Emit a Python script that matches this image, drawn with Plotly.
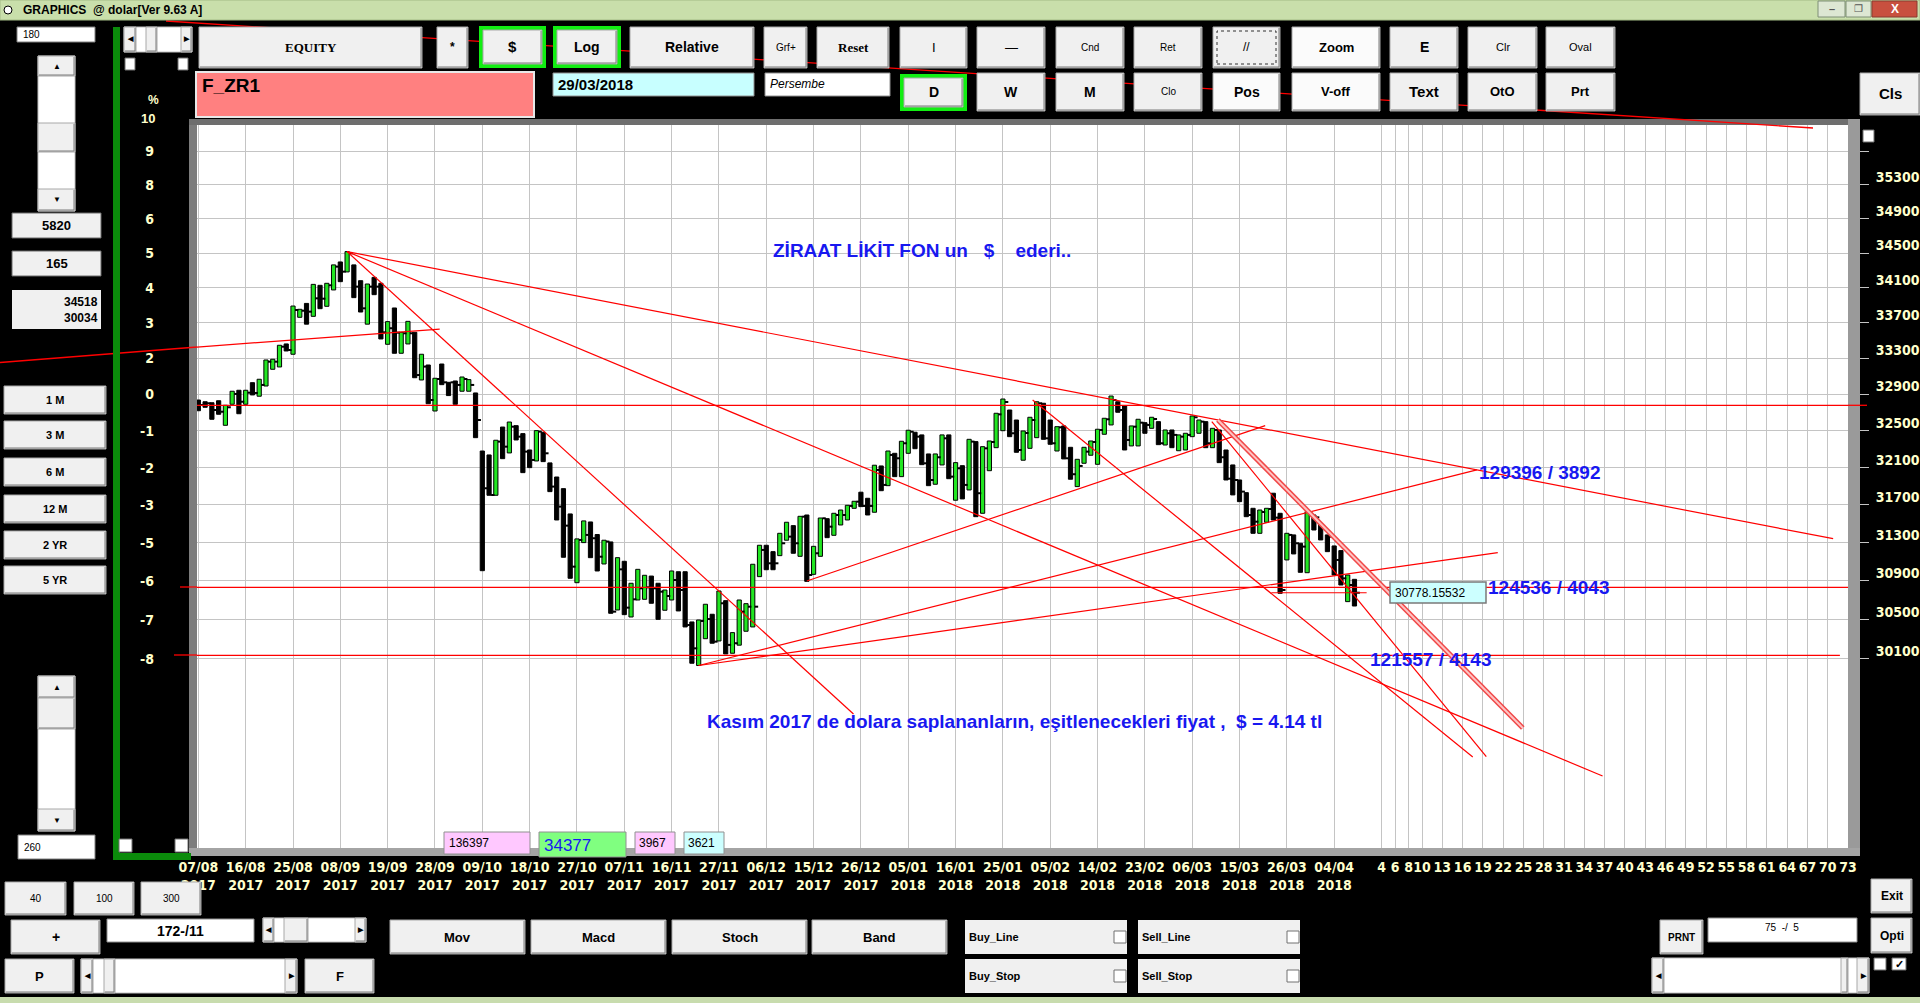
import plotly.graph_objects as go

# ------------------------------------------------------------------
# data: 172 daily bars, 07/08/2017 .. 05/04/2018
# ------------------------------------------------------------------
bar_high = [
    32838, 32819, 32808, 32830, 32780, 32935, 32946, 32946, 33030, 33068,
    33283, 33291, 33448, 33463, 33892, 33855, 33922, 34140, 34129, 34152,
    34364, 34398, 34518, 34364, 34182, 34144, 34220, 34152, 33715, 33870,
    33594, 33718, 33594, 33347, 33227, 33079, 33238, 33034, 33049, 33093,
    33064, 32916, 32280, 32237, 32397, 32541, 32596, 32556, 32469, 32291,
    32502, 32484, 32151, 31999, 31874, 31604, 31340, 31530, 31519, 31386,
    31326, 31308, 31143, 31105, 30876, 31021, 30959, 30951, 30876, 30806,
    31004, 30996, 30996, 30477, 30497, 30659, 30556, 30796, 30696, 30368,
    30703, 30665, 31074, 31273, 31273, 31206, 31399, 31516, 31480, 31579,
    31593, 31262, 31561, 31554, 31611, 31646, 31696, 31739, 31836, 31771,
    32126, 32118, 32280, 32255, 32386, 32506, 32484, 32455, 32248, 32248,
    32455, 32455, 32154, 32121, 32407, 32382, 32327, 32389, 32692, 32849,
    32728, 32618, 32498, 32648, 32819, 32802, 32618, 32545, 32553, 32320,
    32190, 32320, 32389, 32517, 32637, 32882, 32819, 32772, 32553, 32626,
    32589, 32648, 32600, 32509, 32509, 32455, 32473, 32662, 32618, 32600,
    32527, 32509, 32291, 32129, 31967, 31831, 31664, 31646, 31664, 31825,
    31611, 31399, 31382, 31294, 31628, 31593, 31498, 31382, 31266, 31217,
    30962, 30917,
]
bar_low = [
    32720, 32758, 32626, 32681, 32560, 32791, 32687, 32791, 32894, 32880,
    32993, 33179, 33205, 33384, 33347, 33764, 33686, 33775, 33862, 33889,
    34076, 34171, 34283, 33988, 33824, 33686, 34022, 33519, 33459, 33358,
    33358, 33463, 33085, 33060, 32797, 32717, 33008, 32887, 32791, 32935,
    32935, 32425, 31007, 31803, 31803, 32197, 32259, 32400, 32046, 32100,
    32172, 32165, 31842, 31540, 31147, 30928, 30882, 31301, 31143, 31004,
    31077, 30566, 30600, 30552, 30528, 30703, 30710, 30669, 30504, 30597,
    30703, 30590, 30426, 30057, 30034, 30306, 30260, 30283, 30151, 30158,
    30240, 30382, 30426, 30945, 31017, 31017, 31164, 31326, 31189, 31157,
    30896, 30969, 31157, 31353, 31378, 31487, 31540, 31664, 31682, 31593,
    31622, 31852, 31906, 32003, 32003, 32255, 32305, 32132, 31906, 31921,
    32129, 31981, 31750, 31764, 31860, 31575, 31611, 32067, 32316, 32501,
    32436, 32266, 32180, 32309, 32425, 32407, 32353, 32280, 32194, 31975,
    31896, 32147, 32234, 32136, 32462, 32564, 32703, 32291, 32335, 32335,
    32473, 32527, 32349, 32345, 32316, 32283, 32291, 32436, 32473, 32316,
    32316, 32154, 31967, 31807, 31735, 31575, 31399, 31399, 31516, 31540,
    30772, 31119, 31182, 30990, 30986, 31434, 31329, 31206, 30962, 30858,
    30686, 30641,
]
bar_close = [
    32783, 32802, 32728, 32709, 32758, 32905, 32819, 32919, 32916, 33005,
    33264, 33264, 33432, 33395, 33847, 33839, 33828, 33980, 33976, 34129,
    34344, 34286, 34498, 34114, 33866, 34114, 34114, 33594, 33640, 33590,
    33583, 33583, 33115, 33209, 32838, 33071, 33034, 33034, 33005, 33071,
    33005, 32618, 31878, 31806, 32382, 32327, 32545, 32436, 32273, 32183,
    32491, 32255, 31896, 31682, 31480, 31049, 31329, 31382, 31347, 31153,
    31312, 30583, 31021, 30624, 30710, 30824, 30834, 30824, 30789, 30744,
    30910, 30806, 30446, 30208, 30487, 30507, 30276, 30669, 30243, 30260,
    30583, 30634, 30634, 31224, 31084, 31084, 31294, 31364, 31294, 31575,
    30962, 31189, 31558, 31469, 31593, 31593, 31689, 31735, 31689, 31689,
    32075, 31914, 32237, 32201, 32364, 32490, 32436, 32147, 31967, 32212,
    32418, 32003, 32093, 31914, 32382, 31825, 32309, 32378, 32680, 32816,
    32473, 32291, 32476, 32618, 32802, 32418, 32364, 32538, 32201, 32029,
    32118, 32273, 32378, 32509, 32626, 32838, 32728, 32400, 32545, 32589,
    32564, 32629, 32364, 32473, 32455, 32436, 32455, 32648, 32600, 32364,
    32509, 32212, 31981, 31967, 31842, 31593, 31522, 31625, 31657, 31565,
    30806, 31382, 31294, 31259, 31611, 31568, 31452, 31364, 31119, 30927,
    30858, 30778,
]
# g = green (up) bar, b = black (down) bar
bar_color = list(
    "bbbbggbgbg" "gggbggbgbg" "gbgbbgbbgb" "ggbgbgbbbg" "gbbbgbgbbb"
    "gbbbbbggbb" "gbgbgggbbg" "gbbbggbgbg" "ggggbbggbg" "bggbggggbb"
    "gbgbggbbbg" "gbgbgbgggg" "bbgggbbgbb" "ggggggbbgg" "bgbgbggggb"
    "gbbbbbbggb" "bgbbgbbbbb" "gb"
)

date_labels = ["07/08", "16/08", "25/08", "08/09", "19/09", "28/09", "09/10", "18/10",
               "27/10", "07/11", "16/11", "27/11", "06/12", "15/12", "26/12", "05/01",
               "16/01", "25/01", "05/02", "14/02", "23/02", "06/03", "15/03", "26/03", "04/04"]
date_years = ["2017", "2017", "2017", "2017", "2017", "2017", "2017", "2017",
              "2017", "2017", "2017", "2017", "2017", "2017", "2017", "2018",
              "2018", "2018", "2018", "2018", "2018", "2018", "2018", "2018", "2018"]
future_steps = [4, 6, 8, 10, 13, 16, 19, 22, 25, 28, 31, 34, 37, 40, 43, 46, 49,
                52, 55, 58, 61, 64, 67, 70, 73]

price_ticks = [35700, 35300, 34900, 34500, 34100, 33700, 33300, 32900,
               32500, 32100, 31700, 31300, 30900, 30500, 30100]
price_text = ["", "35300", "34900", "34500", "34100", "33700", "33300", "32900",
              "32500", "32100", "31700", "31300", "30900", "30500", "30100"]
pct_text = ["9", "8", "6", "5", "4", "3", "2", "0", "-1", "-2", "-3", "-5", "-6", "-7", "-8"]

# hand drawn trend lines (bar index, price)
trend_x0 = [22, 22, 22, -0.2, -0.2, -0.2, -0.2, 74, 74, 90, 123.4, 149.9, 158.7]
trend_p0 = [34518, 34518, 34518, 32780, 30834, 30137, 33428, 30034, 30034, 30900, 32838, 32600, 30778]
trend_x1 = [241.8, 207.7, 96.9, 244.0, 244.0, 242.8, 35.7, 192.2, 189.1, 157.8, 188.5, 190.5, 172.8]
trend_p1 = [31342, 28939, 29549, 32780, 30834, 30137, 33631, 31196, 32075, 32556, 29125, 29128, 30778]
channel_x = [150.8, 195.9]
channel_p = [32618, 29410]

# ------------------------------------------------------------------
W, H = 1920, 1003
ML, MR, MT, MB = 197, 72, 125, 155
PW = W - ML - MR
PH = H - MT - MB
SANS = "Liberation Sans, Arial, sans-serif"
NARROW = "Liberation Sans Narrow, Arial Narrow, DejaVu Sans Condensed, Liberation Sans"
SERIF = "Liberation Serif, Times New Roman, serif"
CREAM = "#ffffcc"
BLUE = "#1818f0"
NB = "\u00a0"


def px_x(X):
    return (X - ML) / PW


def px_y(Y):
    return (MT + PH - Y) / PH


shapes = []
annos = []


def rect(x0, y0, x1, y1, fill, line="#a0a0a0", lw=1, dash="solid"):
    shapes.append(dict(type="rect", xref="paper", yref="paper", layer="above",
                       x0=px_x(x0), x1=px_x(x1), y0=px_y(y1), y1=px_y(y0),
                       fillcolor=fill, line=dict(color=line, width=lw, dash=dash)))


def seg(x0, y0, x1, y1, color, lw=1):
    shapes.append(dict(type="line", xref="paper", yref="paper", layer="above",
                       x0=px_x(x0), x1=px_x(x1), y0=px_y(y0), y1=px_y(y1),
                       line=dict(color=color, width=lw)))


def text(x, y, s, size=12, color="black", weight="bold", family=SANS, anchor="center", style="normal"):
    annos.append(dict(xref="paper", yref="paper", x=px_x(x), y=px_y(y), text=s,
                      showarrow=False, xanchor=anchor, yanchor="middle", align=anchor if anchor != "center" else "center",
                      font=dict(size=size, color=color, family=family, weight=weight, style=style)))


def button(x0, y0, x1, y1, label, size=12, weight="bold", family=SANS, fill="#f0f0f0"):
    rect(x0, y0, x1, y1, fill, "#a8a8a8")
    seg(x0 + 1, y1 - 1, x1 - 1, y1 - 1, "#7a7a7a")
    seg(x1 - 1, y0 + 1, x1 - 1, y1 - 1, "#7a7a7a")
    if label:
        text((x0 + x1) / 2, (y0 + y1) / 2, label, size, weight=weight, family=family)


def green_button(x0, y0, x1, y1, label, size=14):
    rect(x0, y0, x1, y1, "#12ee12", lw=0)
    button(x0 + 4, y0 + 4, x1 - 4, y1 - 4, label, size)


# plot bevel
rect(189, 119, 197, 856, "#7c7c7c", lw=0)
rect(189, 119, 1860, 125, "#6e6e6e", lw=0)
rect(1848, 119, 1860, 856, "#9a9a9a", lw=0)
rect(189, 848, 1860, 856, "#a4a4a4", lw=0)

# stray red lines crossing the window chrome
seg(166, 21, 1813, 128, "#ff0000", 1.3)
seg(0, 362.5, 197, 347, "#ff0000", 1.3)
seg(180, 587, 197, 587, "#ff0000", 1.3)
seg(174, 655, 197, 655, "#ff0000", 1.3)
seg(1848, 405.3, 1867, 405.3, "#ff0000", 1.3)

# title bar
rect(0, 0, 1920, 20, "#c9dfab", "#a3bb85")
shapes.append(dict(type="circle", xref="paper", yref="paper", layer="above",
                   x0=px_x(4), x1=px_x(12), y0=px_y(14), y1=px_y(6),
                   fillcolor="white", line=dict(color="black", width=1)))
text(21, 10, "GRAPHICS" + NB * 2 + "@ dolar[Ver 9.63 A]", 12, anchor="left")
rect(1818, 1, 1845, 17, "#dde7d3", "#7f8f77")
text(1831.5, 9, "–", 11, color="#555555")
rect(1846, 1, 1871, 17, "#dde7d3", "#7f8f77")
text(1858.5, 9, "❐", 10, color="#555555", weight="normal")
rect(1872, 1, 1917, 17, "#c8503f", "#8a3a30")
text(1894.5, 9, "X", 12, color="white")

# top button rows
rect(17, 27, 95, 42, "white", "#808080")
text(21, 34.5, "180", 10, weight="normal", anchor="left")
rect(124, 27, 192, 52, "white", "#c0c0c0")
button(124, 27, 136, 52, "◀", 7)
button(146, 27, 157, 52, "")
button(181, 27, 192, 52, "▶", 7)
rect(125, 58, 135, 70, "white", "#707070")
rect(178, 58, 188, 70, "white", "#707070")

button(199, 27, 422, 68, "EQUITY", 13, family=SERIF)
button(437, 27, 468, 68, "*", 12)
green_button(479, 26, 546, 68, "$", 15)
green_button(553, 26, 621, 68, "Log", 14)
button(630, 27, 754, 68, "Relative", 14)
button(764, 27, 807, 68, "Grf+", 10, weight="normal")
button(817, 27, 889, 68, "Reset", 13, family=SERIF)
button(900, 27, 967, 68, "I", 13, weight="normal")
button(977, 27, 1045, 68, "—", 13, weight="normal")
button(1056, 27, 1124, 68, "Cnd", 10, weight="normal")
button(1134, 27, 1202, 68, "Ret", 10, weight="normal")
button(1213, 27, 1280, 68, "//", 12, weight="normal")
rect(1217, 31, 1276, 64, "rgba(0,0,0,0)", "#303030", 1, "dot")
button(1292, 27, 1380, 68, "Zoom", 13, fill="#fbfbfb")
button(1390, 27, 1458, 68, "E", 14)
button(1468, 27, 1537, 68, "Clr", 11, weight="normal")
button(1546, 27, 1615, 68, "Oval", 11, weight="normal")

rect(196, 72, 534, 117, "#ff8080", "#e8e8e8", 2)
text(200, 86, "F_ZR1", 19, anchor="left")
rect(553, 73, 754, 96, "#c8ffff", "#909090")
text(556, 84.5, "29/03/2018", 15, anchor="left")
rect(765, 73, 890, 96, "white", "#909090")
text(768, 84.5, "Persembe", 12, anchor="left", weight="normal", style="italic")
green_button(900, 74, 967, 111, "D", 14)
button(977, 73, 1045, 111, "W", 14)
button(1056, 73, 1124, 111, "M", 14)
button(1134, 73, 1202, 111, "Clo", 10, weight="normal")
button(1213, 73, 1280, 111, "Pos", 14, fill="#fbfbfb")
button(1292, 73, 1380, 111, "V-off", 13, fill="#fbfbfb")
button(1390, 73, 1458, 111, "Text", 15)
button(1468, 73, 1537, 111, "OtO", 13)
button(1546, 73, 1615, 111, "Prt", 13)
button(1860, 73, 1920, 115, "Cls", 15)
rect(1863, 130, 1874, 142, "white", "#707070")

# left panel
rect(38, 56, 75, 211, "white", "#c0c0c0")
button(38, 56, 75, 76, "▲", 8)
button(38, 123, 75, 152, "")
button(38, 189, 75, 211, "▼", 8)
rect(12, 213, 101, 238, "#f0f0f0", "#6a6a6a")
text(56.5, 225.5, "5820", 13)
rect(12, 251, 101, 276, "#f0f0f0", "#6a6a6a")
text(56.5, 263.5, "165", 13)
rect(12, 290, 101, 329, "#f0f0f0", lw=0)
text(100, 309.5, "34518<br>30034", 12, anchor="right")
for lab, y0 in (("1 M", 386), ("3 M", 421), ("6 M", 458), ("12 M", 495), ("2 YR", 531), ("5 YR", 566)):
    button(4, y0, 106, y0 + 28, lab, 11)
rect(38, 676, 75, 831, "white", "#c0c0c0")
button(38, 676, 75, 698, "▲", 8)
button(38, 698, 75, 729, "")
button(38, 809, 75, 831, "▼", 8)
rect(18, 835, 95, 859, "white", "#808080")
text(22, 847, "260", 10, weight="normal", anchor="left")
rect(113, 27, 120, 860, "#0b8b0b", lw=0)
rect(113, 853, 191, 860, "#0b8b0b", lw=0)
rect(119, 839, 132, 852, "white", "#707070")
rect(175, 839, 188, 852, "white", "#707070")
text(153, 100, "%", 12, color=CREAM)
text(157, 118, "10", 13, color=CREAM, anchor="right")

# value boxes sitting on the plot floor
rect(444, 832, 530, 854, "#ffc8ff", "#909090")
text(447, 843, "136397", 12, weight="normal", anchor="left")
rect(539, 832, 626, 857, "#80ff80", "#909090")
text(542, 845, "34377", 17, color=BLUE, weight="normal", anchor="left")
rect(635, 832, 675, 854, "#ffc8ff", "#909090")
text(637, 843, "3967", 12, weight="normal", anchor="left")
rect(684, 832, 724, 854, "#ccffff", "#909090")
text(686, 843, "3621", 12, weight="normal", anchor="left")

# value tag next to the last close
rect(1390, 582, 1486, 603, "#ccffff", "#7a7a7a", 1.5)
text(1393, 592.5, "30778.15532", 12, weight="normal", anchor="left")

# bottom controls
button(5, 882, 66, 915, "40", 10, weight="normal")
button(74, 882, 134, 915, "100", 10, weight="normal")
button(141, 882, 201, 915, "300", 10, weight="normal")
button(11, 920, 100, 954, "+", 14)
rect(107, 919, 254, 942, "white", "#909090")
text(180.5, 930.5, "172-/11", 14)
rect(263, 918, 366, 942, "white", "#c0c0c0")
button(263, 918, 274, 942, "◀", 7)
button(284, 918, 308, 942, "")
button(355, 918, 366, 942, "▶", 7)
button(5, 959, 74, 993, "P", 13)
rect(81, 959, 297, 993, "white", "#c0c0c0")
button(81, 959, 93, 993, "◀", 7)
button(104, 959, 115, 993, "")
button(285, 959, 297, 993, "▶", 7)
button(305, 959, 374, 993, "F", 13)
for lab, x0 in (("Mov", 390), ("Macd", 531), ("Stoch", 672), ("Band", 812)):
    button(x0, 920, x0 + 135, 954, lab, 13)
for lab, x0, y0 in (("Buy_Line", 965, 920), ("Sell_Line", 1138, 920),
                    ("Buy_Stop", 965, 959), ("Sell_Stop", 1138, 959)):
    rect(x0, y0, x0 + 162, y0 + 34, "#f0f0f0", lw=0)
    text(x0 + 2, y0 + 17, lab, 11, anchor="left")
    rect(x0 + 149, y0 + 11, x0 + 161, y0 + 23, "white", "#707070")
button(1660, 920, 1703, 954, "PRNT", 10)
rect(1708, 918, 1857, 942, "white", "#909090")
text(1782, 927, "75" + NB + " -/" + NB + " 5", 10, weight="normal")
button(1871, 879, 1912, 913, "Exit", 12)
button(1871, 918, 1912, 953, "Opti", 12)
rect(1652, 958, 1869, 993, "white", "#c0c0c0")
button(1652, 958, 1664, 993, "◀", 7)
button(1841, 958, 1848, 993, "")
button(1857, 958, 1869, 993, "▶", 7)
rect(1874, 958, 1886, 970, "white", "#707070")
rect(1892, 958, 1906, 970, "white", "#707070")
text(1899, 964, "✓", 11)
rect(0, 997, 1920, 1003, "#c8dcae", lw=0)

# labels written on the chart
text(771, 250, "ZİRAAT LİKİT FON un" + NB * 3 + "$" + NB * 4 + "ederi..", 19, color=BLUE, anchor="left")
text(1477, 473, "129396 / 3892", 19, color=BLUE, anchor="left")
text(1486, 587, "124536 / 4043", 19, color=BLUE, anchor="left")
text(1368, 659, "121557 / 4143", 19, color=BLUE, anchor="left")
text(705, 721, "Kasım 2017 de dolara saplananların, eşitlenecekleri fiyat ," + NB * 2 + "$ = 4.14 tl",
     19, color=BLUE, anchor="left")

# ------------------------------------------------------------------
fig = go.Figure()
idx = list(range(len(bar_high)))
for col, fill in (("b", "#000000"), ("g", "#22e622")):
    sel = [i for i in idx if bar_color[i] == col]
    fig.add_trace(go.Bar(x=sel, y=[bar_high[i] - bar_low[i] for i in sel],
                         base=[bar_low[i] for i in sel], width=0.62,
                         marker=dict(color=fill, line=dict(color="black", width=1)),
                         hoverinfo="skip"))

tx, ty = [], []
for i, c in enumerate(bar_close):
    tx += [i + 0.3, i + 0.8, None]
    ty += [c, c, None]
fig.add_trace(go.Scatter(x=tx, y=ty, mode="lines", line=dict(color="black", width=2), hoverinfo="skip"))

lx, ly = [], []
for a, b, c, d in zip(trend_x0, trend_p0, trend_x1, trend_p1):
    lx += [a, c, None]
    ly += [b, d, None]
fig.add_trace(go.Scatter(x=lx, y=ly, mode="lines", line=dict(color="#ff0000", width=1.2), hoverinfo="skip"))
fig.add_trace(go.Scatter(x=channel_x, y=channel_p, mode="lines", line=dict(color="#f04848", width=5), hoverinfo="skip"))
fig.add_trace(go.Scatter(x=channel_x, y=channel_p, mode="lines", line=dict(color="#ffc4c4", width=2), hoverinfo="skip"))
fig.add_trace(go.Scatter(x=[0], y=[32900], yaxis="y2", mode="markers", marker=dict(opacity=0), hoverinfo="skip"))

x_ticks = list(range(0, 169, 7)) + [171 + s for s in future_steps]
x_text = [d + "<br>" + y for d, y in zip(date_labels, date_years)] + [str(s) for s in future_steps]
y_range = [4.45097, 4.55653]
tick_font = dict(family=NARROW, size=14, color=CREAM, weight="bold")

fig.update_layout(
    width=W, height=H, autosize=False,
    margin=dict(l=ML, r=MR, t=MT, b=MB, pad=0, autoexpand=False),
    paper_bgcolor="black", plot_bgcolor="white",
    showlegend=False, barmode="overlay", hovermode=False,
    xaxis=dict(range=[-0.2, 244.0], tickmode="array", tickvals=x_ticks, ticktext=x_text,
               showgrid=True, gridcolor="#c4c4c4", gridwidth=1, zeroline=False, showline=False,
               ticks="", ticklabelstandoff=9, tickfont=tick_font, tickangle=0, automargin=False),
    yaxis=dict(type="log", range=y_range, side="right", tickmode="array",
               tickvals=price_ticks, ticktext=price_text, showgrid=True, gridcolor="#c4c4c4",
               gridwidth=1, zeroline=False, showline=False, ticks="outside", ticklen=20,
               tickcolor="#c4c4c4", tickwidth=1, ticklabelshift=-8, ticklabelstandoff=4,
               tickfont=tick_font, automargin=False),
    yaxis2=dict(type="log", range=y_range, overlaying="y", side="left", tickmode="array",
                tickvals=price_ticks, ticktext=pct_text, showgrid=False, zeroline=False,
                showline=False, ticks="", ticklabelstandoff=42, tickfont=tick_font,
                automargin=False),
    shapes=shapes, annotations=annos,
)

fig.write_html("out.html", config={"displayModeBar": False, "staticPlot": True, "responsive": False},
               post_script="var gd=document.getElementById('{plot_id}');"
                           "gd.style.position='absolute';gd.style.left='0px';gd.style.top='0px';")
